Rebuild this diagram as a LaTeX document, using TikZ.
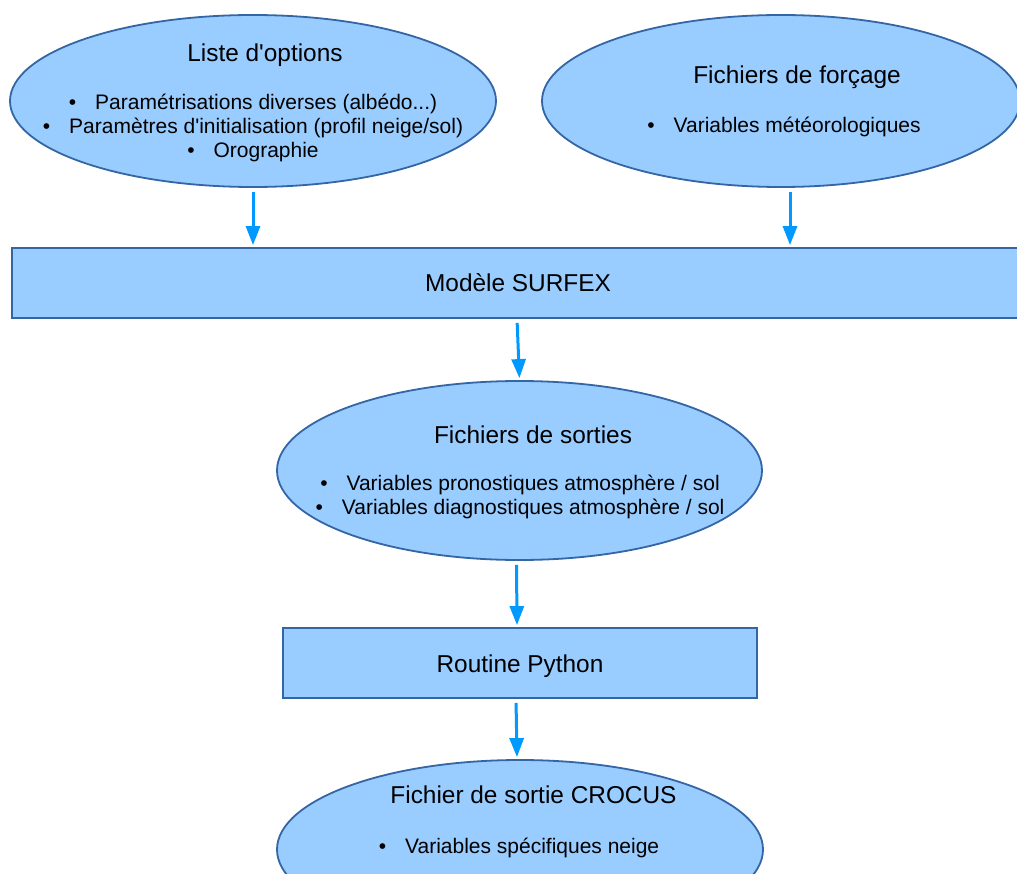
\documentclass[tikz,border=0pt]{standalone}
\usepackage{fontspec}
\setmainfont{Liberation Sans}
\usepackage{xcolor}
\usetikzlibrary{positioning,arrows.meta,shapes.geometric}
\definecolor{fondbleu}{HTML}{99CCFF}
\definecolor{bordbleu}{HTML}{3465A4}
\definecolor{flechebleu}{HTML}{0099FF}
\newcommand{\puce}{\textbullet\hspace{19pt}}
\tikzset{
  bulle/.style={ellipse, fill=fondbleu, draw=bordbleu, line width=1.8pt, inner sep=0pt},
  boite/.style={rectangle, fill=fondbleu, draw=bordbleu, line width=1.8pt, inner sep=0pt},
  titre/.style={font=\fontsize{24.4}{28}\selectfont, anchor=base, inner sep=0pt},
  liste/.style={font=\fontsize{21}{24}\selectfont, align=center, anchor=base, inner sep=0pt},
  fleche/.style={draw=flechebleu, line width=3pt, -{Triangle[length=19pt, width=14pt]},
    shorten <=4pt, shorten >=2pt}
}
\begin{document}
\begin{tikzpicture}[x=1pt, y=-1pt]
        \useasboundingbox (0,0) rectangle (1017,874);
        % entrees
        \node[bulle, minimum width=486pt, minimum height=172pt] (options) at (253,101) {};
        \node[bulle, minimum width=478pt, minimum height=172pt] (forcage) at (781,101) {};
        \node[titre] (options-t) at (265,62) {Liste d\textquotesingle options};
        \node[liste] (options-l) at (253,158) {\puce Paramétrisations diverses (albédo...)\\
          \puce Paramètres d\textquotesingle initialisation (profil neige/sol)\\ \puce Orographie};
        \node[titre] (forcage-t) at (797,84) {Fichiers de forçage};
        \node[liste] (forcage-l) at (784,133) {\puce Variables météorologiques};
        % modele
        \node[boite, minimum width=1013pt, minimum height=70pt] (surfex) at (518.5,283) {};
        \node[titre] (surfex-t) at (518,292) {Modèle SURFEX};
        % sorties
        \node[bulle, minimum width=485pt, minimum height=179pt] (sorties) at (519.5,470.5) {};
        \node[titre] (sorties-t) at (533,443) {Fichiers de sorties};
        \node[liste] (sorties-l) at (520,514) {\puce Variables pronostiques atmosphère / sol\\
          \puce Variables diagnostiques atmosphère / sol};
        \node[boite, minimum width=474pt, minimum height=70pt] (python) at (520,663) {};
        \node[titre] (python-t) at (520,672) {Routine Python};
        \node[bulle, minimum width=486pt, minimum height=179pt] (crocus) at (520,849.5) {};
        \node[titre] (crocus-t) at (533.5,803) {Fichier de sortie CROCUS};
        \node[liste] (crocus-l) at (519,853) {\puce Variables spécifiques neige};
        % fleches
        \draw[fleche] (options.south) -- (options.south |- surfex.north);
        \draw[fleche] ([xshift=9pt]forcage.south) -- ([xshift=9pt]forcage.south |- surfex.north);
        \draw[fleche] ([xshift=-2.5pt]surfex.south -| sorties.north) -- (sorties.north);
        \draw[fleche] ([xshift=-3pt]sorties.south) -- ([xshift=-3pt]python.north);
        \draw[fleche] ([xshift=-4pt]python.south) -- ([xshift=-3pt]crocus.north);
      \end{tikzpicture}
\end{document}
